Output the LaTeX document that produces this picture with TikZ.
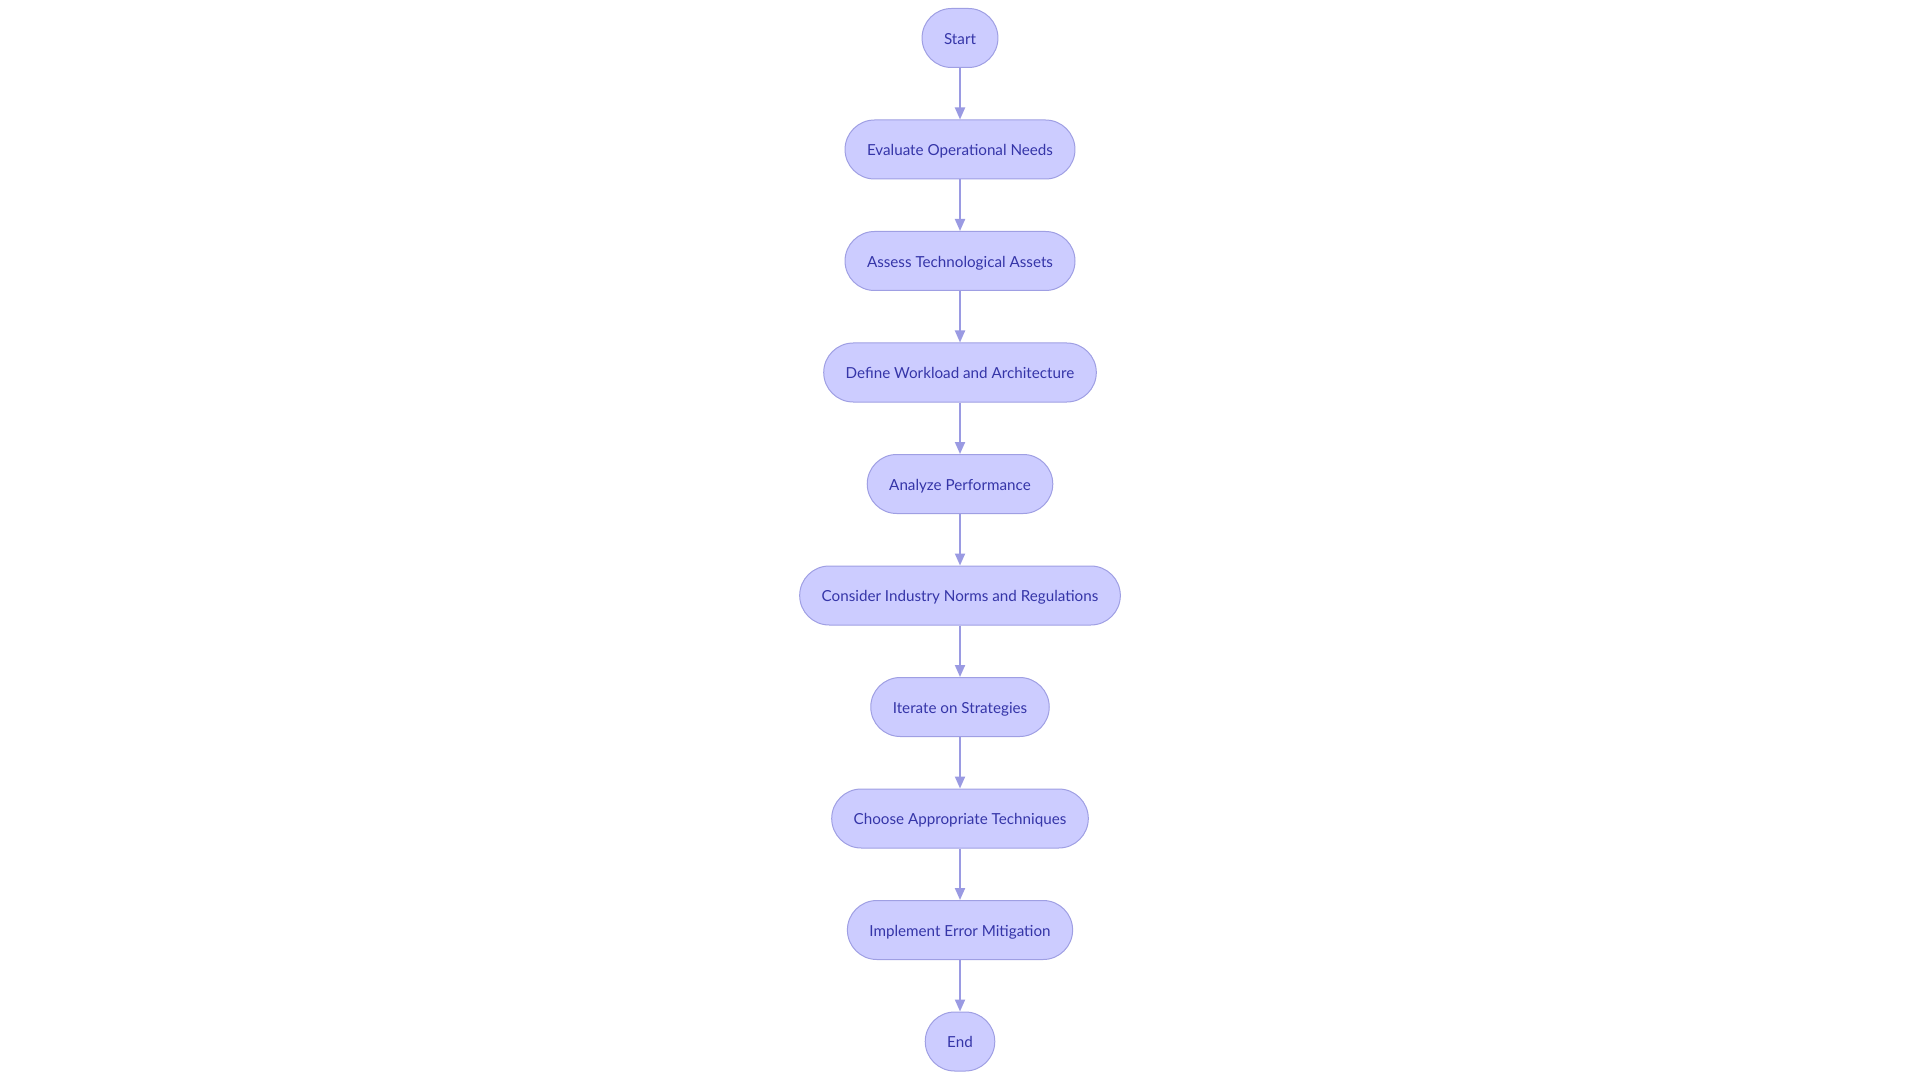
\documentclass[tikz,border=0pt]{standalone}
\usepackage{fontspec}
\setmainfont{Lato}
\usetikzlibrary{arrows.meta}

\definecolor{stagefill}{HTML}{CCCCFF}
\definecolor{stageline}{HTML}{9F9FE3}
\definecolor{stagetext}{HTML}{3535A8}
\definecolor{flowline}{HTML}{9A9AE2}

\begin{document}
\begin{tikzpicture}[x=0.5pt, y=0.5pt,
	stage/.style={draw=stageline, line width=0.5pt, fill=stagefill, text=stagetext,
		rounded corners=14.75pt, minimum height=29.5pt, inner xsep=11pt, inner ysep=0pt,
		text height=1.2ex, text depth=0ex, font=\fontsize{7.6}{9.5}\selectfont},
	flow/.style={draw=flowline, line width=1pt, -{Triangle[length=6pt,width=5pt]}}]

% parameters %{{{2

	\def\midx{960}
	\def\topy{38}
	\def\gap{111.5}

% frame %{{{2

	\useasboundingbox (0,0) rectangle (1920,-1080);

% stages %{{{2

	\foreach \i/\txt in {0/Start,
		1/Evaluate Operational Needs,
		2/Assess Technological Assets,
		3/Define Workload and Architecture,
		4/Analyze Performance,
		5/Consider Industry Norms and Regulations,
		6/Iterate on Strategies,
		7/Choose Appropriate Techniques,
		8/Implement Error Mitigation,
		9/End} {
		\node[stage] (S\i) at (\midx,{-\topy-\gap*\i}) {\txt};
	}

% arrows %{{{2

	\foreach \i [evaluate=\i as \j using int(\i+1)] in {0,...,8} { \draw[flow] (S\i) -- (S\j); }

% closing %{{{2

\end{tikzpicture}
\end{document}
